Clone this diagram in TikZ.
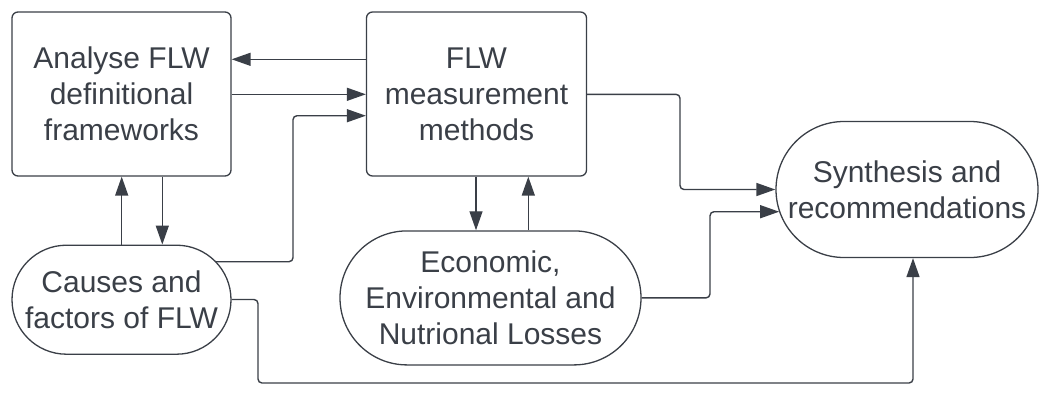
\documentclass[tikz,border=0pt]{standalone}
\usepackage{fontspec}
\setmainfont{Liberation Sans}
\usetikzlibrary{arrows.meta,shapes.misc}
\definecolor{ink}{HTML}{3A3F47}
\begin{document}
\begin{tikzpicture}[x=1pt,y=1pt,
  every node/.style={font=\fontsize{30}{36}\selectfont, text=ink, align=center, inner sep=0pt},
  boxnode/.style={draw=ink, line width=1.3pt, rectangle, rounded corners=6pt},
  pillnode/.style={draw=ink, line width=1.3pt, rounded rectangle},
  link/.style={draw=ink, line width=1.4pt, rounded corners=4pt,
    -{Triangle[length=19pt,width=13pt]}},
]
\useasboundingbox (0,0) rectangle (1040,-392);

% process boxes
\node[boxnode, minimum width=219pt, minimum height=164pt] (a) at (121.5,-94)
  {Analyse FLW\\definitional\\frameworks};
\node[boxnode, minimum width=220pt, minimum height=164pt] (b) at (476.5,-94)
  {FLW\\measurement\\methods};

% rounded terminals
\node[pillnode, minimum width=219pt, minimum height=109pt] (c) at (121.5,-299.7)
  {Causes and\\factors of FLW};
\node[pillnode, minimum width=301pt, minimum height=134pt] (d) at (490.5,-297.9)
  {Economic,\\Environmental and\\Nutrional Losses};
\node[pillnode, minimum width=262pt, minimum height=136pt] (e) at (907,-189.5)
  {Synthesis and\\recommendations};

% connectors between the two top boxes
\draw[link] (b.west |- 0,-59.3) -- (a.east |- 0,-59.3);
\draw[link] (a.east |- 0,-94.3) -- (b.west |- 0,-94.3);

% causes <-> definitional frameworks
\draw[link] (c.north -| 121.7,0) -- (a.south -| 121.7,0);
\draw[link] (a.south -| 162.3,0) -- (c.north -| 162.3,0);

% causes -> measurement methods
\draw[link] (c.22 |- 0,-261.7) -- (293,-261.7) -- (293,-115.7) -- (b.west |- 0,-115.7);

% measurement methods <-> losses
\draw[link] (b.south -| 476,0) -- (d.north -| 476,0);
\draw[link] (d.north -| 528.3,0) -- (b.south -| 528.3,0);

% into the synthesis
\draw[link] (b.east |- 0,-94.3) -- (680,-94.3) -- (680,-189.5) -- (e.west);
\draw[link] (d.east) -- (710,-297.9) -- (710,-211.7) -- (e.190 |- 0,-211.7);
\draw[link] (c.east |- 0,-299.5) -- (258,-299.5) -- (258,-383) -- (913,-383) -- (e.south -| 913,0);
\end{tikzpicture}
\end{document}
